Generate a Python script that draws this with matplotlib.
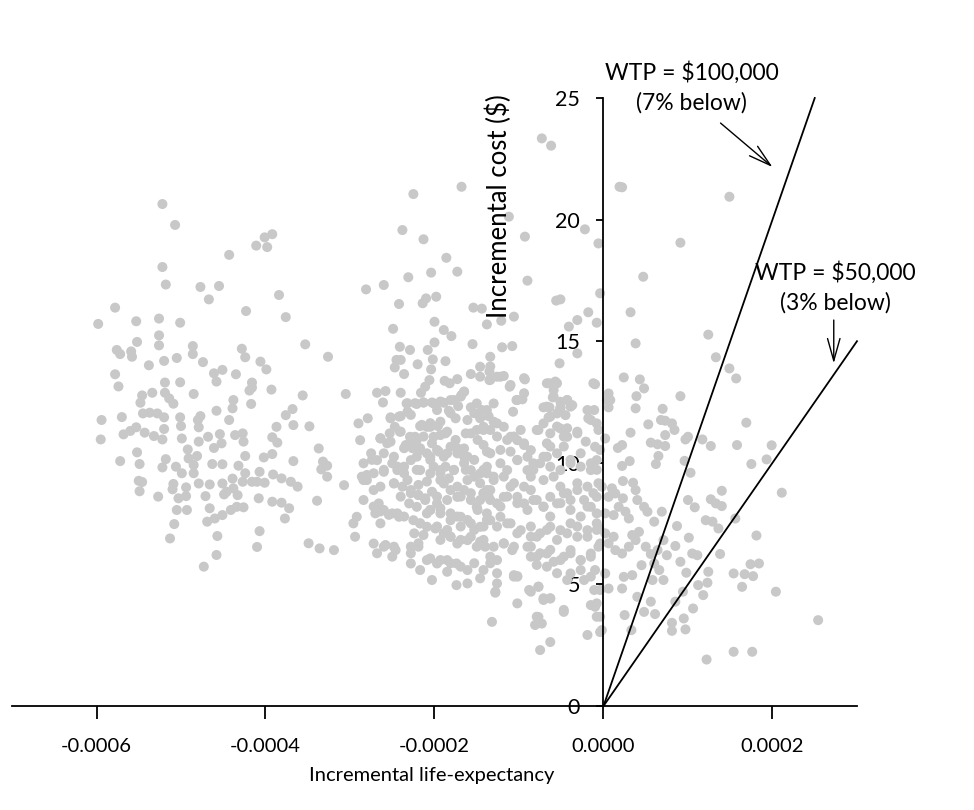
import matplotlib
matplotlib.use("Agg")
import matplotlib.pyplot as plt
import numpy as np

# ---------------- data (life-expectancy in units of 1e-6, cost in $) ----------------
left_le = [-522,-507,-401,-392,-411,-398,-443,-522,-518,-477,-455,-467,-384,-578,-598,-553,-526,-501,-423,-376,
           -526,-526,-552,-576,-572,-559,-558,-486,-486,-520,-505,-474,-428,-424,-406,-399,-353,-326,-538,-578,
           -574,-519,-501,-461,-451,-458,-435,-416,-419,-416,-393,-356,-546,-548,-534,-519,-514,-509,-485,-545,
           -537,-528,-520,-594,-570,-501,-500,-480,-477,-479,-458,-443,-438,-439,-417,-368,-376,-367,-387,-348,
           -595,-568,-560,-553,-543,-532,-520,-522,-499,-479,-468,-454,-452,-461,-436,-427,-426,-392,-386,-552,
           -549,-572,-518,-522,-506,-499,-492,-491,-485,-485,-481,-463,-451,-432,-424,-402,-392,-367,-337,-332,
           -327,-334,-327,-550,-546,-549,-527,-509,-510,-494,-494,-503,-505,-493,-479,-466,-471,-451,-446,-449,
           -439,-438,-433,-424,-427,-416,-407,-410,-401,-408,-391,-381,-370,-362,-392,-381,-372,-377,-339,
           -466,-469,-460,-451,-441,-434,-426,-508,-513,-457,-407,-410,-458,-473,-349,-336,-319]
left_cost = [20.64,19.78,19.27,19.40,18.93,18.87,18.55,18.05,17.33,17.23,17.27,16.72,16.90,16.38,15.71,15.82,15.93,15.76,16.24,15.99,
             15.24,14.83,14.97,14.64,14.47,14.58,14.36,14.80,14.47,14.19,14.31,14.14,14.69,14.34,14.16,13.84,14.87,14.36,14.01,13.64,
             13.14,13.30,13.31,13.68,13.82,13.34,13.64,13.30,12.97,13.09,13.01,12.77,12.77,12.47,12.88,12.88,12.65,12.43,12.83,12.03,
             12.06,12.03,11.87,11.76,11.88,11.87,11.51,11.76,11.92,11.46,12.14,11.76,12.58,12.24,12.42,12.21,11.96,11.55,11.48,11.50,
             10.96,11.17,11.31,11.46,11.24,11.10,11.39,10.96,11.00,10.87,11.07,11.18,10.80,10.61,11.14,11.21,10.87,11.05,10.83,10.43,
             9.95,10.07,10.15,9.81,9.84,9.57,10.55,10.18,9.91,9.57,10.28,9.95,9.94,9.88,10.28,10.22,10.36,10.07,10.59,10.05,
             9.88,9.73,9.43,9.26,9.21,8.83,8.61,9.13,8.91,8.99,8.63,8.54,8.06,8.06,9.15,9.11,8.63,9.15,8.81,8.70,
             9.35,8.95,8.67,9.57,9.22,9.22,9.63,9.22,9.18,8.54,9.52,9.36,9.22,9.02,8.40,8.36,8.13,7.71,8.44,
             8.13,7.58,7.71,7.85,8.06,8.19,8.17,7.48,6.89,6.99,7.19,6.54,6.21,5.73,6.69,6.48,6.41]

mid_le = [-168,-225,-112,-238,-213,-93,-22,-6,-186,-231,-204,-173,-90,-281,-260,-242,-214,-210,-198,-154,
          -144,-106,-138,-121,-200,-56,-51,-18,-31,-41,-8,-4,-249,-189,-180,-241,-229,-208,-200,-155,
          -120,-108,-31,-245,-240,-247,-236,-220,-202,-204,-206,-187,-157,-146,-146,-135,-134,-52,-188,-182,
          -173,-135,-126,-118,-93,-111,-64,-55,-59,-60,-51,-10,-305,-268,-258,-261,-240,-216,-211,-233,
          -221,-213,-201,-189,-177,-168,-165,-197,-183,-172,-150,-157,-144,-130,-136,-103,-96,-107,-71,-64,
          -51,-43,-37,-55,-45,-65,-18,-11,-8,4,-290,-279,-288,-252,-240,-232,-247,-253,-264,-256,
          -217,-209,-205,-196,-187,-201,-241,-229,-223,-234,-225,-217,-209,-195,-189,-181,-173,-165,-161,-157,
          -150,-142,-134,-126,-118,-110,-102,-94,-86,-79,-71,-63,-51,-43,-31,-21,-10,-275,-284,-286,
          -268,-260,-307,-296,-292,-294,-250,-244,-236,-228,-221,-248,-238,-217,-205,-193,-187,-177,-165,-157,
          -146,-138,-130,-122,-114,-102,-90,-83,-71,-63,-51,-39,-27,-15,-8,-280,-272,-284,-266,-260,
          -250,-242,-270,-264,-228,-219,-211,-203,-230,-221,-205,-197,-189,-181,-173,-165,-157,-150,-142,-134,
          -126,-118,-110,-102,-94,-86,-79,-71,-63,-55,-47,-39,-31,-23,-15,-8,-2,-272,-260,-246,
          -250,-228,-219,-228,-217,-205,-197,-203,-185,-185,-174,-174,-161,-161,-146,-225,-217,-209,-199,-189,
          -181,-173,-161,-150,-140,-134,-126,-193,-181,-169,-157,-146,-134,-122,-110,-98,-86,-75,-63,-51,
          -39,-31,-19,-8,-118,-108,-90,-79,-67,-59,-47,-39,-27,-15,-4,-106,-102,-128,-126,-102,
          -86,-77,-71,-63,-47,-79,-73,-132,-39,-23,-11,-8,-4,-75,-63,-19,-4,-81,-77]
mid_cost = [21.35,21.05,20.12,19.57,19.19,19.30,19.60,19.02,18.43,17.63,17.82,17.86,17.49,17.13,17.31,16.53,16.56,16.76,16.83,16.38,
            16.34,16.01,15.69,15.84,15.80,16.67,16.72,16.19,15.87,15.60,15.76,16.97,15.51,15.46,15.21,14.77,14.64,14.64,14.95,14.88,
            14.75,14.80,14.50,14.23,14.23,13.92,13.65,14.05,14.25,13.84,13.40,14.18,13.65,13.95,13.54,13.75,14.36,14.09,13.37,13.27,
            13.44,13.40,13.54,13.57,13.43,13.13,13.27,13.27,12.99,12.69,12.51,13.23,12.83,12.88,12.95,12.48,12.88,12.88,13.13,12.44,
            12.42,12.48,12.44,12.47,12.58,12.79,12.92,12.17,12.14,12.33,12.44,12.28,12.17,12.44,11.92,12.58,12.61,12.10,12.28,12.28,
            12.28,12.58,12.37,12.03,11.96,11.87,11.83,12.17,11.62,12.58,11.62,11.83,10.93,11.87,11.92,12.10,11.48,11.21,11.00,10.80,
            11.51,11.48,11.48,11.51,11.21,11.07,11.28,11.07,11.07,10.73,10.66,10.52,10.39,10.46,10.25,10.66,10.39,10.59,10.25,11.21,
            11.35,11.48,11.35,11.62,11.48,11.07,10.93,10.80,10.52,11.35,11.62,11.21,11.41,11.07,11.21,10.87,10.66,10.39,9.98,9.43,
            10.11,9.63,9.08,7.51,7.78,6.96,9.98,9.70,9.84,10.11,10.25,9.15,9.02,9.70,9.56,9.70,9.84,9.70,9.98,9.70,
            9.56,9.84,9.43,9.98,9.70,10.11,9.70,9.98,10.25,9.84,9.70,9.98,9.84,9.70,10.11,9.29,8.88,8.47,8.33,8.06,
            7.92,7.78,7.92,7.51,8.88,8.67,8.54,8.81,8.33,8.19,8.06,8.33,9.15,8.88,8.60,8.88,8.47,8.19,8.74,8.88,
            8.33,8.60,9.02,8.60,8.33,8.88,8.47,8.19,8.60,8.33,8.74,8.47,8.88,8.47,8.19,8.60,9.02,6.68,6.55,6.41,
            6.14,6.55,6.55,5.86,5.59,6.07,5.86,5.18,6.00,5.52,5.86,4.97,5.59,5.04,5.25,7.64,7.51,7.37,7.30,7.10,
            6.96,6.68,6.82,6.55,6.55,6.14,6.00,7.92,7.64,7.78,7.51,7.37,7.64,7.78,7.51,7.23,6.96,7.10,7.37,7.23,
            7.51,6.96,7.23,7.51,6.68,6.41,6.55,6.14,6.27,5.93,6.14,6.41,6.00,6.27,6.68,5.38,5.34,4.66,5.04,4.22,
            4.70,4.90,4.36,4.42,3.87,3.67,3.39,3.46,5.45,5.18,4.77,4.22,3.67,2.30,2.63,2.92,3.04,3.33,3.66]

core_le = [-232,-223,-213,-203,-193,-181,-169,-165,-252,-242,-228,-215,-205,-193,-181,-175,-161,-153,-146,
           -264,-252,-240,-228,-221,-213,-203,-193,-185,-175,-163,-149,-142,-274,-260,-248,-236,-226,-217,-205,
           -197,-185,-173,-165,-153,-138,-280,-272,-260,-244,-236,-221,-205,-201,-193,-183,-177,-163,-153,-142,
           -284,-264,-248,-232,-219,-209,-193,-173,-161,-146,-138,-240,-228,-219,-211,-197,-185,-169,-157,-146,
           -136,-272,-264,-254,-244,-236,-205,-193,-181,-173,-161,-149,-138,-217,-209,-197,-185,-169,-153,-142,
           -224,-213,-193,-181,-169,-157,-146,-268,-258,-248,-228,-219,-209,-193,-181,-169,-153,-142,
           -134,-122,-134,-110,-94,-102,-94,-67,-57,-59,-43,-39,-51,-67,-12,
           -138,-130,-142,-126,-114,-106,-98,-94,-77,-63,-55,-43,-31,-47,-63,-67,-19,-15,-6,
           -142,-134,-122,-110,-102,-90,-83,-75,-67,-55,-47,-39,-27,-15,-8,-4,
           -138,-130,-118,-106,-94,-86,-71,-59,-51,-43,-31,-19,-12,-6,
           -142,-134,-122,-114,-102,-90,-83,-71,-63,-51,-39,-27,-19,-8,
           -138,-126,-114,-102,-86,-79,-67,-55,-43,-31,-19,-8,
           -142,-130,-118,-106,-86,-75,-63,-51,-39,-27,-15,-6,
           -134,-126,-106,-86,-79,-67,-55,-43,-27,-15,-10,
           -128,-102,-88,-77,-71,-63,-47,-15,-10,-4,-8,-2,
           -73,-62]
core_cost = [12.45,12.45,12.48,12.48,12.52,12.58,12.72,12.93,11.83,11.90,11.97,11.56,11.63,11.69,12.04,11.83,11.76,12.04,11.83,
             11.01,10.87,11.28,11.01,10.94,11.08,10.80,11.14,11.28,10.94,11.21,10.94,11.35,10.12,10.39,10.25,10.60,10.60,10.60,10.25,
             10.53,10.39,10.60,10.25,10.12,10.46,9.50,9.57,9.71,9.84,9.57,9.71,10.12,9.84,9.57,9.36,9.71,9.71,9.43,9.71,
             9.29,9.02,9.16,9.29,9.09,9.23,9.29,9.02,9.29,9.16,8.88,8.61,8.75,8.68,8.47,8.61,8.47,8.61,8.75,8.47,
             8.61,8.20,8.00,7.86,7.92,7.79,8.06,8.13,7.92,7.79,7.65,8.06,7.92,7.51,7.92,7.38,7.24,7.38,7.24,7.38,
             7.10,7.03,6.83,6.96,6.83,6.96,6.76,6.28,6.62,6.55,6.28,6.69,6.00,6.00,5.87,5.73,5.87,5.59,
             13.96,13.54,13.41,13.20,13.48,12.58,12.86,13.27,13.34,12.72,12.58,12.31,12.24,12.31,13.27,
             12.17,11.69,11.42,11.08,10.94,11.08,11.35,10.73,11.35,11.90,11.49,11.42,11.28,11.08,10.67,10.80,12.17,11.76,11.35,
             10.73,10.39,10.53,10.46,10.12,10.25,9.71,9.98,10.25,10.39,10.67,10.12,10.39,9.98,9.71,10.53,
             9.57,9.29,9.43,9.16,9.02,9.43,9.29,9.43,9.02,8.75,9.16,9.02,8.75,9.16,
             8.75,8.47,8.20,8.61,8.34,8.06,8.47,8.20,7.79,8.34,8.06,7.79,8.20,7.92,
             7.65,7.38,7.51,7.10,7.38,6.96,7.24,6.83,7.10,7.38,6.96,7.24,
             6.83,6.55,6.69,6.55,6.55,6.28,6.42,6.00,6.28,6.00,6.14,6.55,
             5.87,5.46,5.32,6.14,5.80,5.73,5.46,5.18,5.59,5.32,5.59,
             4.70,5.32,4.77,4.91,4.43,4.43,3.95,4.15,4.08,4.77,3.67,3.12,
             23.34,23.04]

right_le = [19,22,149,91,47,32,124,38,133,149,157,24,43,48,91,6,8,6,39,38,
            70,53,68,73,81,84,32,2,56,64,73,73,97,100,117,127,17,22,158,169,
            199,65,62,22,31,96,175,193,103,23,35,38,10,6,14,23,40,48,52,140,
            100,108,127,133,140,211,2,12,18,26,30,69,60,87,121,129,136,156,-5,2,
            12,6,14,22,30,38,34,42,50,56,64,71,75,85,101,105,111,138,181,2,
            6,24,34,22,45,60,66,71,58,91,98,124,123,112,118,154,167,177,164,174,
            184,204,94,85,40,56,48,61,106,25,33,81,81,95,97,254,122,154,176]
right_cost = [21.35,21.33,20.94,19.05,17.65,16.19,15.27,14.91,14.34,13.88,13.47,13.51,13.43,13.06,12.74,12.85,12.58,12.28,12.74,12.24,
              12.22,11.58,11.76,11.73,11.62,11.35,11.24,11.00,10.83,10.76,10.69,11.14,10.96,11.07,10.96,10.69,10.61,10.73,10.73,11.65,
              10.72,10.28,9.95,9.87,10.07,10.08,9.95,10.14,9.59,9.25,9.18,8.88,8.95,8.60,8.74,8.54,8.47,8.19,7.99,8.85,
              8.47,8.17,8.50,8.33,8.22,8.77,7.92,7.85,8.19,7.99,7.71,7.99,7.58,7.40,7.64,7.58,7.30,7.71,7.30,7.10,
              6.96,6.69,6.41,6.27,6.55,6.82,7.03,7.16,6.55,6.25,6.41,6.82,6.20,6.58,6.92,6.27,6.20,6.25,7.01,5.45,
              4.83,5.31,5.38,4.83,5.79,5.86,5.59,5.18,5.18,5.93,5.48,5.52,5.07,4.97,4.56,5.45,5.42,5.34,4.90,5.83,
              5.86,4.70,4.70,4.29,4.49,4.29,3.87,3.78,4.01,3.74,3.12,3.42,3.09,3.60,3.15,3.53,1.91,2.23,2.23]

wtp_values = [100000, 50000]
wtp_labels = ["WTP = $100,000\n(7% below)", "WTP = $50,000\n(3% below)"]
x_ticks = [-0.0006, -0.0004, -0.0002, 0.0, 0.0002]
y_ticks = [0, 5, 10, 15, 20, 25]

# ---------------- figure ----------------
plt.rcParams['font.family'] = ['Lato', 'DejaVu Sans']
fig = plt.figure(figsize=(9.74, 8.10), dpi=100)
ax = fig.add_axes([12/974, 1 - 706/810, 845/974, 608/810])

le = np.array(left_le + mid_le + core_le + right_le) * 1e-6
cost = np.array(left_cost + mid_cost + core_cost + right_cost)
ax.scatter(le, cost, s=52, color='#c8c8c8', edgecolors='none', zorder=2)

ax.set_xlim(-0.0007, 0.0003)
ax.set_ylim(0, 25)

# WTP lines through origin
x_end = [0.00025, 0.0003]
for w, xe in zip(wtp_values, x_end):
    ax.plot([0, xe], [0, w * xe], color='black', lw=1.3, zorder=3, clip_on=False)

# spines through origin
for s in ['top', 'right']:
    ax.spines[s].set_visible(False)
ax.spines['left'].set_position(('data', 0))
ax.spines['bottom'].set_position(('data', 0))
ax.spines['left'].set_linewidth(1.3)
ax.spines['bottom'].set_linewidth(1.3)
ax.spines['left'].set_zorder(4)

ax.set_xticks(x_ticks)
ax.set_xticklabels([f"{v:.4f}" for v in x_ticks])
ax.set_yticks(y_ticks)
ax.set_yticklabels([str(v) for v in y_ticks])
ax.tick_params(axis='x', direction='out', length=9, width=1.3, pad=14, labelsize=14.5)
ax.tick_params(axis='y', direction='out', length=5, width=1.3, pad=12, labelsize=15.5)

fig.text(432/974, 1 - 775/810, "Incremental life-expectancy", ha='center', va='center', fontsize=14.5)
ax.text(-0.0001243, 20.56, "Incremental cost ($)", rotation=90, ha='center', va='center', fontsize=18.5)

# annotation texts
ax.text(0.000104, 25.43, wtp_labels[0], ha='center', va='center', fontsize=16.5,
        linespacing=1.45, clip_on=False)
ax.text(0.000274, 17.21, wtp_labels[1], ha='center', va='center', fontsize=16.5,
        linespacing=1.45, clip_on=False)

# arrows
arrow_kw = dict(arrowstyle='->,head_length=0.5,head_width=0.14', color='black', lw=1.0,
                mutation_scale=32, shrinkA=0, shrinkB=0)
ax.annotate('', xy=(0.0002, 22.16), xytext=(0.0001385, 23.97),
            arrowprops=arrow_kw, annotation_clip=False)
ax.annotate('', xy=(0.0002725, 14.09), xytext=(0.0002725, 15.87),
            arrowprops=arrow_kw, annotation_clip=False)

fig.savefig("out.png", dpi=100)
